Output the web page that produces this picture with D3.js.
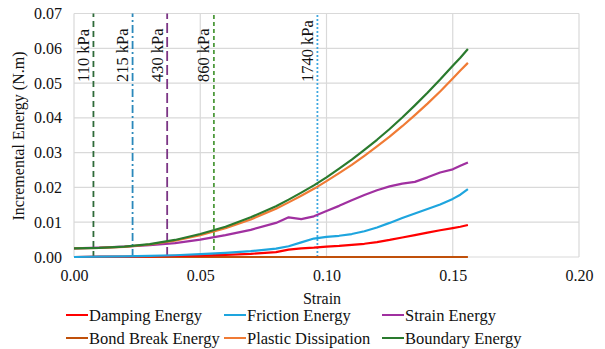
<!DOCTYPE html>
<html>
<head>
<meta charset="utf-8">
<script src="https://cdn.jsdelivr.net/npm/d3@7"></script>
<style>
	html, body { margin: 0; padding: 0; background: #fff; }
	.chart { width: 605px; height: 349px; }
</style>
</head>
<body>
<div class="chart"></div>
<script>
;(function(window, document, undefined) {

	'use strict';

	var FONT = "'Liberation Serif', 'Times New Roman', serif";

	var strain = [0, 0.01, 0.02, 0.03, 0.04, 0.05, 0.06, 0.07, 0.08, 0.085, 0.09, 0.095, 0.10,
		0.105, 0.11, 0.115, 0.12, 0.125, 0.13, 0.135, 0.14, 0.145, 0.15, 0.153, 0.156];

	var damping = [0, 0.0001, 0.0001, 0.0002, 0.0003, 0.0004, 0.0006, 0.0009, 0.0014, 0.0021, 0.0025, 0.0027, 0.0030,
		0.0032, 0.0035, 0.0038, 0.0043, 0.0049, 0.0056, 0.0063, 0.0070, 0.0077, 0.0083, 0.0087, 0.0092];
	var friction = [0, 0.0001, 0.0002, 0.0003, 0.0005, 0.0008, 0.0012, 0.0017, 0.0024, 0.0031, 0.0042, 0.0053, 0.0058,
		0.0061, 0.0066, 0.0074, 0.0085, 0.0098, 0.0112, 0.0125, 0.0138, 0.0151, 0.0167, 0.0179, 0.0195];
	var strainEnergy = [0.0025, 0.0027, 0.0030, 0.0034, 0.0040, 0.0050, 0.0063, 0.0078, 0.0098, 0.0114, 0.0109, 0.0117, 0.0132,
		0.0147, 0.0163, 0.0178, 0.0192, 0.0203, 0.0211, 0.0216, 0.0229, 0.0243, 0.0252, 0.0262, 0.0272];
	var bondBreak = [0, 0, 0, 0, 0, 0, 0, 0, 0, 0, 0, 0, 0,
		0, 0, 0, 0, 0, 0, 0, 0, 0, 0, 0, 0];
	var plastic = [0.0025, 0.0026, 0.0029, 0.0036, 0.0047, 0.0063, 0.0083, 0.0108, 0.0139, 0.0157, 0.0176, 0.0196, 0.0218,
		0.0241, 0.0265, 0.0291, 0.0318, 0.0346, 0.0376, 0.0408, 0.0441, 0.0476, 0.0513, 0.0536, 0.0558];
	var boundary = [0.0025, 0.0026, 0.0030, 0.0037, 0.0049, 0.0066, 0.0087, 0.0114, 0.0146, 0.0165, 0.0185, 0.0206, 0.0229,
		0.0254, 0.0280, 0.0308, 0.0337, 0.0368, 0.0401, 0.0436, 0.0472, 0.0510, 0.0550, 0.0573, 0.0598];

	var seriesNames = ['Damping Energy', 'Friction Energy', 'Strain Energy',
		'Bond Break Energy', 'Plastic Dissipation', 'Boundary Energy'];
	var seriesColors = ['#ff0000', '#1ea5de', '#a030a0', '#c0500a', '#f07b35', '#2a7a2e'];
	var seriesValues = [damping, friction, strainEnergy, bondBreak, plastic, boundary];
	var drawOrder = [3, 0, 1, 2, 4, 5];

	var pressureLabels = ['110 kPa', '215 kPa', '430 kPa', '860 kPa', '1740 kPa'];
	var pressureStrain = [0.0077, 0.0232, 0.0369, 0.0554, 0.0964];
	var pressureColors = ['#2f6b3a', '#2a88bb', '#7b3585', '#4e9a3c', '#40a8e0'];
	var pressureDash = ['6,4', '8,3,2,3', '10,4', '4,3', '2,2'];

	var xTicks = [0, 0.05, 0.10, 0.15, 0.20];
	var yTicks = [0, 0.01, 0.02, 0.03, 0.04, 0.05, 0.06, 0.07];

	function init() {
		render();
	}

	function render() {
		var width = 605, height = 349;
		var svg = d3.select('.chart')
			.append('svg')
			.attr('width', width)
			.attr('height', height)
			.style('font-family', FONT);

		var x = d3.scaleLinear().domain([0, 0.20]).range([74, 579]);
		var y = d3.scaleLinear().domain([0, 0.07]).range([257, 13.5]);

		// grid
		svg.append('g')
			.selectAll('line')
			.data(yTicks)
			.enter()
			.append('line')
			.attr('x1', x(0)).attr('x2', x(0.20))
			.attr('y1', function(d) { return y(d); })
			.attr('y2', function(d) { return y(d); })
			.attr('stroke', '#d9d9d9')
			.attr('stroke-width', 1.2);
		svg.append('g')
			.selectAll('line')
			.data(xTicks)
			.enter()
			.append('line')
			.attr('x1', function(d) { return x(d); })
			.attr('x2', function(d) { return x(d); })
			.attr('y1', y(0)).attr('y2', y(0.07))
			.attr('stroke', '#d9d9d9')
			.attr('stroke-width', 1.2);

		// axes labels
		var xAxis = svg.append('g')
			.attr('transform', 'translate(0,' + y(0) + ')')
			.call(d3.axisBottom(x).tickValues(xTicks).tickFormat(d3.format('.2f')).tickSize(0).tickPadding(13));
		xAxis.select('.domain').remove();
		xAxis.attr('font-family', null).attr('font-size', null);
		xAxis.selectAll('text').style('font-size', '16px').style('font-family', FONT).attr('fill', '#111');

		var yAxis = svg.append('g')
			.attr('transform', 'translate(' + x(0) + ',0)')
			.call(d3.axisLeft(y).tickValues(yTicks).tickFormat(d3.format('.2f')).tickSize(0).tickPadding(12));
		yAxis.select('.domain').remove();
		yAxis.attr('font-family', null).attr('font-size', null);
		yAxis.selectAll('text').style('font-size', '16px').style('font-family', FONT).attr('fill', '#111');

		svg.append('text')
			.attr('x', 322).attr('y', 304)
			.attr('text-anchor', 'middle')
			.style('font-size', '16px')
			.attr('fill', '#111')
			.text('Strain');

		svg.append('text')
			.attr('transform', 'translate(24,136) rotate(-90)')
			.attr('text-anchor', 'middle')
			.style('font-size', '16px')
			.attr('fill', '#111')
			.text('Incremental Energy (N.m)');

		// pressure markers
		svg.append('g')
			.selectAll('line')
			.data(pressureStrain)
			.enter()
			.append('line')
			.attr('x1', function(d) { return x(d); })
			.attr('x2', function(d) { return x(d); })
			.attr('y1', y(0)).attr('y2', y(0.07))
			.attr('stroke', function(d, i) { return pressureColors[i]; })
			.attr('stroke-width', 1.8)
			.attr('stroke-dasharray', function(d, i) { return pressureDash[i]; });

		svg.append('g')
			.selectAll('text')
			.data(pressureStrain)
			.enter()
			.append('text')
			.attr('transform', function(d) { return 'translate(' + (x(d) - 4.5) + ',82) rotate(-90)'; })
			.style('font-size', '16.5px')
			.attr('fill', '#111')
			.text(function(d, i) { return pressureLabels[i]; });

		// series
		var line = d3.line()
			.x(function(d, i) { return x(strain[i]); })
			.y(function(d) { return y(d); });

		svg.append('g')
			.selectAll('path')
			.data(drawOrder)
			.enter()
			.append('path')
			.attr('d', function(k) { return line(seriesValues[k]); })
			.attr('fill', 'none')
			.attr('stroke', function(k) { return seriesColors[k]; })
			.attr('stroke-width', 2.2)
			.attr('stroke-linejoin', 'round');

		// legend
		var legend = svg.append('g')
			.selectAll('g')
			.data(seriesNames)
			.enter()
			.append('g')
			.attr('transform', function(d, i) {
				return 'translate(' + [66, 224, 382][i % 3] + ',' + (i < 3 ? 315 : 338) + ')';
			});
		legend.append('line')
			.attr('x1', 0).attr('x2', 22)
			.attr('stroke', function(d, i) { return seriesColors[i]; })
			.attr('stroke-width', 2);
		legend.append('text')
			.attr('x', 23).attr('y', 5.5)
			.style('font-size', '16.5px')
			.attr('fill', '#111')
			.text(function(d) { return d; });
	}

	document.addEventListener('DOMContentLoaded', init);

})(window, document);
</script>
</body>
</html>
